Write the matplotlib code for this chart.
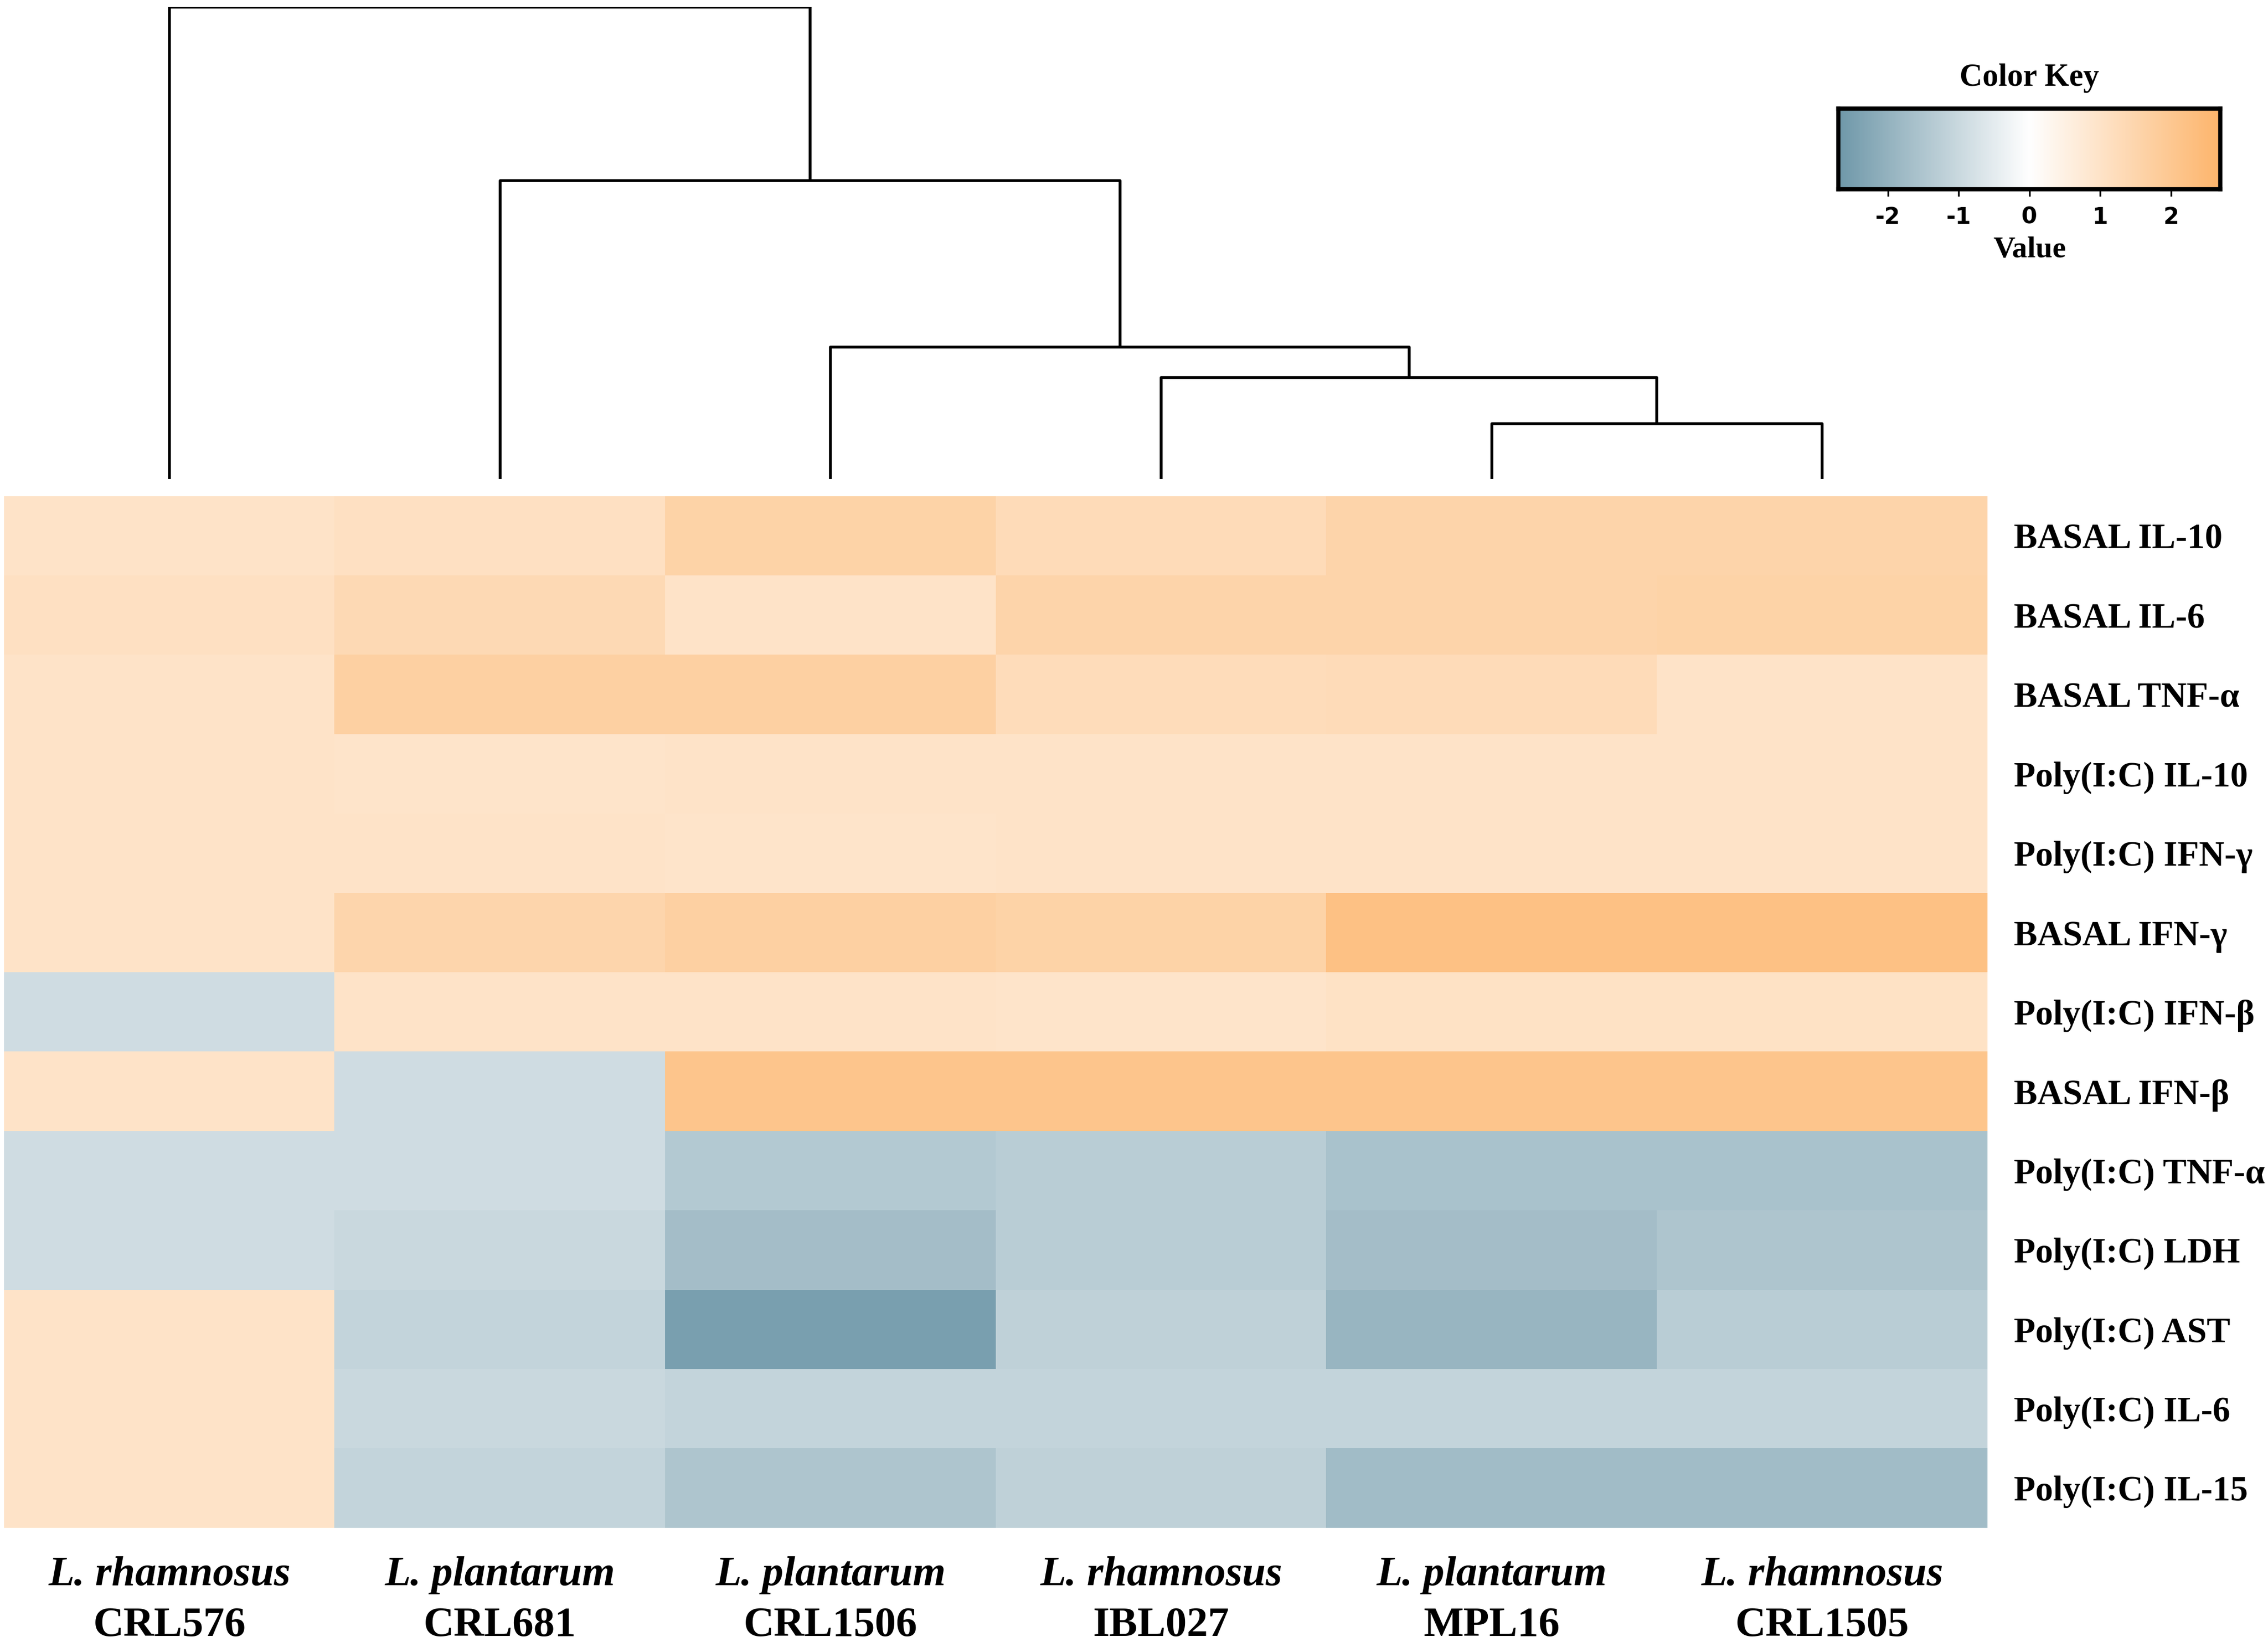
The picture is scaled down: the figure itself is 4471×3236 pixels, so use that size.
import numpy as np
import matplotlib
matplotlib.use("Agg")
import matplotlib.pyplot as plt
from matplotlib.colors import LinearSegmentedColormap

# --- DATA ---
strains = ["L. rhamnosus", "L. plantarum", "L. plantarum", "L. rhamnosus", "L. plantarum", "L. rhamnosus"]
strain_ids = ["CRL576", "CRL681", "CRL1506", "IBL027", "MPL16", "CRL1505"]
rows = ["BASAL IL-10", "BASAL IL-6", "BASAL TNF-\u03b1", "Poly(I:C) IL-10", "Poly(I:C) IFN-\u03b3",
        "BASAL IFN-\u03b3", "Poly(I:C) IFN-\u03b2", "BASAL IFN-\u03b2", "Poly(I:C) TNF-\u03b1",
        "Poly(I:C) LDH", "Poly(I:C) AST", "Poly(I:C) IL-6", "Poly(I:C) IL-15"]

basal_il10 = [1.0, 1.1, 1.6, 1.3, 1.55, 1.55]
basal_il6 = [1.1, 1.35, 1.0, 1.55, 1.55, 1.6]
basal_tnfa = [1.0, 1.7, 1.7, 1.25, 1.3, 1.0]
poly_il10 = [1.0, 0.95, 1.0, 1.0, 1.0, 1.0]
poly_ifng = [1.0, 1.0, 0.95, 1.0, 1.0, 1.0]
basal_ifng = [1.0, 1.5, 1.7, 1.6, 2.25, 2.25]
poly_ifnb = [-0.9, 1.0, 1.0, 0.95, 1.05, 1.05]
basal_ifnb = [1.0, -0.9, 2.1, 2.1, 2.1, 2.1]
poly_tnfa = [-0.9, -0.9, -1.4, -1.3, -1.6, -1.6]
poly_ldh = [-0.9, -1.0, -1.7, -1.3, -1.7, -1.5]
poly_ast = [1.0, -1.1, -2.5, -1.2, -1.9, -1.3]
poly_il6 = [1.0, -1.0, -1.1, -1.1, -1.1, -1.1]
poly_il15 = [1.0, -1.1, -1.5, -1.2, -1.75, -1.75]

# column dendrogram merges: (left node, right node, height)
merges = [(4, 5, 38), (3, 6, 70), (2, 7, 91), (1, 8, 206), (0, 9, 326)]

values = np.array([basal_il10, basal_il6, basal_tnfa, poly_il10, poly_ifng, basal_ifng,
                   poly_ifnb, basal_ifnb, poly_tnfa, poly_ldh, poly_ast, poly_il6, poly_il15])

vmin, vmax = -2.7, 2.7
cmap = LinearSegmentedColormap.from_list("key", ["#6f98a9", "#ffffff", "#fdb56c"])

serif = "Liberation Serif"

fig = plt.figure(figsize=(44.71, 32.36), dpi=100)

# --- HEATMAP ---
ax = fig.add_axes([0.0019, 0.0696, 0.8744, 0.6282])
ax.imshow(values, cmap=cmap, vmin=vmin, vmax=vmax, aspect="auto", interpolation="nearest")
ax.set_xlim(-0.5, len(strain_ids) - 0.5)
ax.set_ylim(len(rows) - 0.5, -0.5)
ax.axis("off")

for i, r in enumerate(rows):
    ax.text(len(strain_ids) - 0.5 + 0.08, i + 0.05, r, fontfamily=serif, fontweight="bold",
            fontsize=50, va="center", ha="left")
for j, (s, sid) in enumerate(zip(strains, strain_ids)):
    ax.text(j, len(rows) - 0.5 + 0.6, s, fontfamily=serif, fontweight="bold", fontstyle="italic",
            fontsize=60, ha="center", va="center")
    ax.text(j, len(rows) - 0.5 + 1.24, sid, fontfamily=serif, fontweight="bold",
            fontsize=60, ha="center", va="center")

# --- DENDROGRAM ---
axd = fig.add_axes([0.0019, 0.7084, 0.8744, 0.2872])
axd.set_xlim(-0.5, len(strain_ids) - 0.5)
axd.set_ylim(0, 326)
axd.axis("off")
pos = {i: (float(i), 0.0) for i in range(len(strain_ids))}
nid = len(strain_ids)
for a, b, h in merges:
    xa, ya = pos[a]
    xb, yb = pos[b]
    axd.plot([xa, xa, xb, xb], [ya, h, h, yb], color="black", lw=4, solid_capstyle="butt")
    pos[nid] = ((xa + xb) / 2, h)
    nid += 1

# --- COLOR KEY ---
axc = fig.add_axes([0.8106, 0.8846, 0.1684, 0.0493])
grad = np.linspace(vmin, vmax, 512).reshape(1, -1)
axc.imshow(grad, cmap=cmap, vmin=vmin, vmax=vmax, aspect="auto",
           extent=[vmin, vmax, 0, 1])
axc.set_xlim(vmin, vmax)
axc.set_yticks([])
axc.set_xticks([-2, -1, 0, 1, 2])
axc.set_xticklabels(["-2", "-1", "0", "1", "2"], fontweight="bold", fontsize=32,
                    fontfamily="Liberation Sans Narrow")
axc.tick_params(axis="x", length=10, width=2.5, pad=14)
for sp in axc.spines.values():
    sp.set_linewidth(6)
fig.text(0.8948, 0.9524, "Color Key", fontfamily=serif, fontweight="bold", fontsize=45,
         ha="center", va="center")
fig.text(0.8948, 0.8476, "Value", fontfamily=serif, fontweight="bold", fontsize=43,
         ha="center", va="center")

fig.savefig("out.png", dpi=100, facecolor="white")
